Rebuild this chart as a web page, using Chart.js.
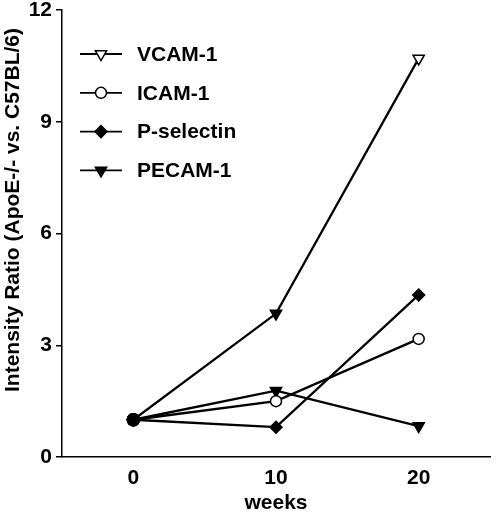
<!DOCTYPE html>
<html>
<head>
<meta charset="utf-8">
<script src="https://cdn.jsdelivr.net/npm/chart.js@4.4.0/dist/chart.umd.min.js"></script>
<style>
  html, body { margin: 0; padding: 0; background: #fff; }
  #wrap { width: 498px; height: 512px; position: relative; }
</style>
</head>
<body>
<div id="wrap"><canvas id="c"></canvas></div>
<script>
// Data
const weeks = [0, 10, 20];
const xTicks = [0, 10, 20];
const seriesNames = ["VCAM-1", "ICAM-1", "P-selectin", "PECAM-1"];
const vcam = [1.0, 3.85, 10.7];
const icam = [1.0, 1.5, 3.17];
const pselectin = [1.0, 0.8, 4.35];
const pecam = [1.0, 1.78, 0.83];

const FONT = "'Liberation Sans', Arial, Helvetica, sans-serif";

// marker looks per series
const markers = {
  "VCAM-1": { style: "triangle", fill: "#fff", rot: 180, r: 6.5 },
  "ICAM-1": { style: "circle", fill: "#fff", rot: 0, r: 5.5 },
  "P-selectin": { style: "rectRot", fill: "#000", rot: 0, r: 6 },
  "PECAM-1": { style: "triangle", fill: "#000", rot: 180, r: 6.5 }
};

function makeSet(name, values) {
  const m = markers[name];
  // week 0 shows as one filled dot; VCAM at week 10 is drawn filled in the original
  const styles = values.map((v, i) => (i === 0 ? "circle" : m.style));
  const fills = values.map((v, i) => {
    if (i === 0) return "#000";
    if (name === "VCAM-1" && i === 1) return "#000";
    return m.fill;
  });
  return {
    label: name,
    data: values.map((v, i) => ({ x: weeks[i], y: v })),
    showLine: true,
    borderColor: "#000",
    borderWidth: 2.3,
    pointStyle: styles,
    pointBackgroundColor: fills,
    pointBorderColor: "#000",
    pointBorderWidth: 1.5,
    pointRadius: values.map((v, i) => (i === 0 ? 6 : m.r)),
    pointRotation: values.map((v, i) => (i === 0 ? 0 : m.rot)),
    pointHoverRadius: 6
  };
}

// legend inside the plot, plus the y axis title
const extras = {
  id: "extras",
  afterDraw(chart) {
    const ctx = chart.ctx;
    ctx.save();
    seriesNames.forEach((name, i) => {
      const y = 54 + i * 38.8;
      const m = markers[name];
      ctx.strokeStyle = "#000";
      ctx.lineWidth = 1.8;
      ctx.beginPath();
      ctx.moveTo(80, y);
      ctx.lineTo(122, y);
      ctx.stroke();
      ctx.fillStyle = m.fill;
      ctx.lineWidth = 1.5;
      Chart.helpers.drawPoint(ctx, { pointStyle: m.style, radius: m.r, rotation: m.rot, borderWidth: 1.5 }, 101, y);
      ctx.fillStyle = "#000";
      ctx.font = "bold 21px " + FONT;
      ctx.textBaseline = "middle";
      ctx.textAlign = "left";
      ctx.fillText(name, 137, y + 1);
    });
    ctx.translate(13, 210);
    ctx.rotate(-Math.PI / 2);
    ctx.font = "bold 21px " + FONT;
    ctx.textAlign = "center";
    ctx.textBaseline = "middle";
    ctx.fillStyle = "#000";
    ctx.fillText("Intensity Ratio (ApoE-/- vs. C57BL/6)", 0, 0);
    ctx.restore();
  }
};

new Chart(document.getElementById("c"), {
  type: "scatter",
  data: {
    datasets: [
      makeSet("VCAM-1", vcam),
      makeSet("ICAM-1", icam),
      makeSet("P-selectin", pselectin),
      makeSet("PECAM-1", pecam)
    ]
  },
  options: {
    responsive: true,
    maintainAspectRatio: false,
    animation: false,
    layout: { padding: { top: 10, right: 5, left: 0, bottom: 0 } },
    plugins: {
      legend: { display: false },
      tooltip: { enabled: false }
    },
    scales: {
      x: {
        type: "linear",
        min: -5,
        max: 25,
        afterBuildTicks: (s) => { s.ticks = xTicks.map((v) => ({ value: v })); },
        afterFit: (s) => { s.height = 55; s.paddingLeft = 0; s.paddingRight = 0; },
        grid: { drawOnChartArea: false, drawTicks: false },
        border: { color: "#000", width: 1.5 },
        ticks: {
          color: "#000",
          padding: 9,
          font: { family: FONT, size: 21, weight: "bold" }
        },
        title: {
          display: true,
          text: "weeks",
          color: "#000",
          padding: { top: 0, bottom: 0 },
          font: { family: FONT, size: 21, weight: "bold", lineHeight: 0.85 }
        }
      },
      y: {
        min: 0,
        max: 12,
        afterFit: (s) => { s.width = 62; s.paddingTop = 0; s.paddingBottom = 0; },
        grid: { drawOnChartArea: false, drawTicks: true, tickLength: 6, color: "#000", lineWidth: 1.5 },
        border: { color: "#000", width: 1.5 },
        ticks: {
          stepSize: 3,
          color: "#000",
          padding: 4,
          font: { family: FONT, size: 21, weight: "bold" }
        }
      }
    }
  },
  plugins: [extras]
});
</script>
</body>
</html>
